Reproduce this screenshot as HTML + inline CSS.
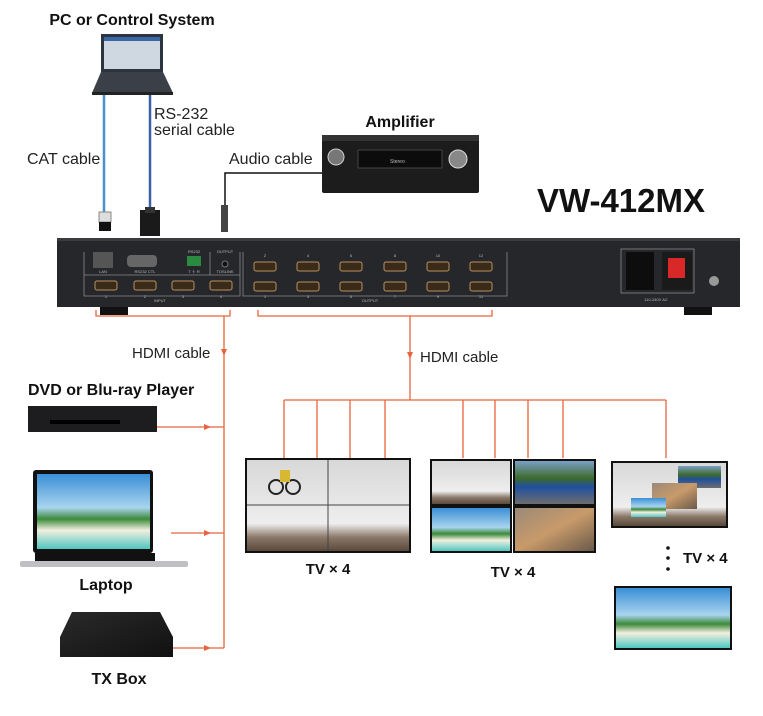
<!DOCTYPE html>
<html><head><meta charset="utf-8"><style>
html,body{margin:0;padding:0;background:#fff;}
svg{display:block;}
text{font-family:"Liberation Sans",Arial,sans-serif;}
.b{font-weight:bold;fill:#111;}
</style></head><body>
<svg width="763" height="716" viewBox="0 0 763 716" xmlns="http://www.w3.org/2000/svg">
<defs>
<linearGradient id="sky" x1="0" y1="0" x2="0" y2="1"><stop offset="0" stop-color="#3a8fd6"/><stop offset="0.45" stop-color="#a9d4ee"/><stop offset="0.6" stop-color="#3c8a3a"/><stop offset="0.75" stop-color="#f2efe0"/><stop offset="1" stop-color="#4fc6c0"/></linearGradient>
<linearGradient id="grey" x1="0" y1="0" x2="0" y2="1"><stop offset="0" stop-color="#d8d8d8"/><stop offset="0.7" stop-color="#eeeeee"/><stop offset="0.85" stop-color="#8a7868"/><stop offset="1" stop-color="#5a4a3c"/></linearGradient>
<linearGradient id="car" x1="0" y1="0" x2="0" y2="1"><stop offset="0" stop-color="#7aa0c8"/><stop offset="0.4" stop-color="#3d6a2a"/><stop offset="0.6" stop-color="#2050a0"/><stop offset="1" stop-color="#6d6d6d"/></linearGradient>
<linearGradient id="war" x1="0" y1="0" x2="1" y2="1"><stop offset="0" stop-color="#9b8a78"/><stop offset="0.5" stop-color="#c89a6a"/><stop offset="1" stop-color="#6a5a4a"/></linearGradient>
<linearGradient id="box" x1="0" y1="0" x2="1" y2="1"><stop offset="0" stop-color="#2a2a2a"/><stop offset="1" stop-color="#111"/></linearGradient>
</defs>

<!-- PC -->
<text x="132" y="25" class="b" font-size="16" text-anchor="middle">PC or Control System</text>
<rect x="101" y="34" width="62" height="38" fill="#2c3440"/>
<rect x="104" y="37" width="56" height="32" fill="#cfd8e0"/>
<rect x="104" y="37" width="56" height="4" fill="#3a66a8"/>
<polygon points="101,72 163,72 173,93 92,93" fill="#3a3f48"/>
<rect x="92" y="92" width="81" height="3" fill="#222"/>
<line x1="104" y1="95" x2="104" y2="212" stroke="#4a8fd0" stroke-width="2.5"/>
<line x1="150" y1="95" x2="150" y2="212" stroke="#3a5fa8" stroke-width="2.5"/>
<rect x="99" y="212" width="12" height="10" fill="#ddd" stroke="#888"/>
<rect x="99" y="222" width="12" height="9" fill="#111"/>
<rect x="140" y="210" width="20" height="26" fill="#1a1a1a"/>
<rect x="145" y="207" width="10" height="6" fill="#333"/>
<text x="154" y="119" font-size="16" fill="#222">RS-232</text>
<text x="154" y="135" font-size="16" fill="#222">serial cable</text>
<text x="27" y="164" font-size="16" fill="#222">CAT cable</text>

<!-- Amplifier -->
<text x="400" y="127" class="b" font-size="16" text-anchor="middle">Amplifier</text>
<rect x="322" y="135" width="157" height="58" rx="2" fill="#1c1c1c"/>
<rect x="322" y="135" width="157" height="6" fill="#333"/>
<circle cx="336" cy="157" r="8" fill="#777" stroke="#ccc"/>
<circle cx="458" cy="159" r="9" fill="#888" stroke="#ddd"/>
<rect x="358" y="150" width="84" height="18" fill="#0c0c0c" stroke="#444"/>
<text x="390" y="163" font-size="5" fill="#bbb">Stereo</text>
<text x="229" y="164" font-size="16" fill="#222">Audio cable</text>
<polyline points="322,173 225,173 225,222" fill="none" stroke="#111" stroke-width="1.5"/>
<rect x="221" y="205" width="7" height="27" fill="#444"/>

<text x="621" y="212" class="b" font-size="33" text-anchor="middle">VW-412MX</text>

<!-- Device -->
<rect x="57" y="238" width="683" height="69" fill="#26272a"/>
<rect x="57" y="238" width="683" height="3" fill="#3a3b3e"/>
<rect x="100" y="307" width="28" height="8" fill="#111"/>
<rect x="684" y="307" width="28" height="8" fill="#111"/>
<g fill="none" stroke="#8a8a8a" stroke-width="0.8">
<polyline points="84,252 84,296 240,296 240,252"/>
<line x1="84" y1="275" x2="240" y2="275"/>
<polyline points="243,252 243,296 507,296 507,252"/>
<line x1="210" y1="252" x2="210" y2="275"/>
<rect x="621" y="249" width="73" height="44"/>
</g>
<rect x="93" y="252" width="20" height="16" fill="#555"/>
<rect x="127" y="255" width="30" height="12" rx="4" fill="#666"/>
<rect x="187" y="256" width="14" height="10" fill="#2a8a40"/>
<circle cx="225" cy="264" r="3" fill="#111" stroke="#777"/>
<g fill="#3a2a1a" stroke="#b89060" stroke-width="1">
<rect x="95" y="281" width="22" height="9" rx="2"/><rect x="134" y="281" width="22" height="9" rx="2"/><rect x="172" y="281" width="22" height="9" rx="2"/><rect x="210" y="281" width="22" height="9" rx="2"/>
<rect x="254" y="262" width="22" height="9" rx="2"/><rect x="297" y="262" width="22" height="9" rx="2"/><rect x="340" y="262" width="22" height="9" rx="2"/><rect x="384" y="262" width="22" height="9" rx="2"/><rect x="427" y="262" width="22" height="9" rx="2"/><rect x="470" y="262" width="22" height="9" rx="2"/>
<rect x="254" y="282" width="22" height="9" rx="2"/><rect x="297" y="282" width="22" height="9" rx="2"/><rect x="340" y="282" width="22" height="9" rx="2"/><rect x="384" y="282" width="22" height="9" rx="2"/><rect x="427" y="282" width="22" height="9" rx="2"/><rect x="470" y="282" width="22" height="9" rx="2"/>
</g>
<g font-size="4" fill="#bbb" text-anchor="middle">
<text x="103" y="273">LAN</text><text x="145" y="273">RS232 CTL</text><text x="194" y="273">T ⏚ R</text><text x="225" y="273">TOSLINK</text><text x="225" y="253">OUTPUT</text><text x="194" y="253">RS232</text>
<text x="106" y="298">1</text><text x="145" y="298">2</text><text x="183" y="298">3</text><text x="221" y="298">4</text><text x="160" y="302">INPUT</text>
<text x="265" y="257">2</text><text x="308" y="257">4</text><text x="351" y="257">6</text><text x="395" y="257">8</text><text x="438" y="257">10</text><text x="481" y="257">12</text>
<text x="265" y="298">1</text><text x="308" y="298">3</text><text x="351" y="298">5</text><text x="395" y="298">7</text><text x="438" y="298">9</text><text x="481" y="298">11</text><text x="370" y="302">OUTPUT</text>
<text x="656" y="301">110-240V AC</text>
</g>
<rect x="626" y="252" width="28" height="38" fill="#0d0d0d"/>
<rect x="662" y="252" width="30" height="38" fill="#1a1a1a"/>
<rect x="668" y="258" width="17" height="20" fill="#d82828"/>
<circle cx="714" cy="281" r="5" fill="#999"/>

<!-- orange connectors -->
<g stroke="#e8643c" stroke-width="1.3" fill="none">
<polyline points="96,310 96,316 230,316 230,310"/>
<line x1="224" y1="316" x2="224" y2="648"/>
<polyline points="258,310 258,316 492,316 492,310"/>
<line x1="410" y1="316" x2="410" y2="400"/>
<line x1="284" y1="400" x2="666" y2="400"/>
<line x1="284" y1="400" x2="284" y2="458"/><line x1="317" y1="400" x2="317" y2="458"/><line x1="350" y1="400" x2="350" y2="458"/><line x1="385" y1="400" x2="385" y2="458"/>
<line x1="463" y1="400" x2="463" y2="458"/><line x1="495" y1="400" x2="495" y2="458"/><line x1="528" y1="400" x2="528" y2="458"/><line x1="563" y1="400" x2="563" y2="458"/>
<line x1="666" y1="400" x2="666" y2="458"/>
<line x1="157" y1="427" x2="224" y2="427"/>
<line x1="171" y1="533" x2="224" y2="533"/>
<line x1="173" y1="648" x2="224" y2="648"/>
</g>
<g fill="#e8643c">
<polygon points="204,424 211,427 204,430"/><polygon points="204,530 211,533 204,536"/><polygon points="204,645 211,648 204,651"/>
<polygon points="221,349 224,356 227,349"/><polygon points="407,352 410,359 413,352"/>
</g>
<text x="132" y="358" font-size="15" fill="#222">HDMI cable</text>
<text x="420" y="362" font-size="15" fill="#222">HDMI cable</text>

<!-- sources -->
<text x="28" y="395" class="b" font-size="16">DVD or Blu-ray Player</text>
<rect x="28" y="406" width="129" height="26" fill="#1d1d1f"/>
<rect x="50" y="420" width="70" height="4" fill="#000"/>
<rect x="33" y="470" width="120" height="83" rx="3" fill="#111"/>
<rect x="37" y="474" width="113" height="75" fill="url(#sky)"/>
<rect x="20" y="561" width="168" height="6" rx="2" fill="#c0c0c4"/>
<rect x="35" y="553" width="120" height="8" fill="#111"/>
<text x="106" y="590" class="b" font-size="16" text-anchor="middle">Laptop</text>
<polygon points="72,612 160,612 173,637 173,657 60,657 60,637" fill="url(#box)"/>
<text x="119" y="684" class="b" font-size="16" text-anchor="middle">TX Box</text>

<!-- TVs -->
<rect x="245" y="458" width="166" height="95" fill="#111"/>
<rect x="247" y="460" width="162" height="91" fill="url(#grey)"/>
<line x1="328" y1="460" x2="328" y2="551" stroke="#444"/><line x1="247" y1="505" x2="409" y2="505" stroke="#444"/>
<circle cx="276" cy="487" r="7" fill="none" stroke="#222" stroke-width="2"/><circle cx="293" cy="487" r="7" fill="none" stroke="#222" stroke-width="2"/><rect x="280" y="470" width="10" height="12" fill="#d8b830"/>
<text x="328" y="574" class="b" font-size="15" text-anchor="middle">TV × 4</text>

<rect x="430" y="459" width="82" height="47" fill="#111"/><rect x="432" y="461" width="78" height="43" fill="url(#grey)"/>
<rect x="513" y="459" width="83" height="47" fill="#111"/><rect x="515" y="461" width="79" height="43" fill="url(#car)"/>
<rect x="430" y="506" width="82" height="47" fill="#111"/><rect x="432" y="508" width="78" height="43" fill="url(#sky)"/>
<rect x="513" y="506" width="83" height="47" fill="#111"/><rect x="515" y="508" width="79" height="43" fill="url(#war)"/>
<text x="513" y="577" class="b" font-size="15" text-anchor="middle">TV × 4</text>

<rect x="611" y="461" width="117" height="67" fill="#111"/><rect x="613" y="463" width="113" height="63" fill="url(#grey)"/>
<rect x="678" y="466" width="43" height="22" fill="url(#car)"/>
<rect x="652" y="483" width="45" height="26" fill="url(#war)"/>
<rect x="631" y="498" width="35" height="19" fill="url(#sky)"/>
<circle cx="668" cy="548" r="1.8" fill="#111"/><circle cx="668" cy="558" r="1.8" fill="#111"/><circle cx="668" cy="569" r="1.8" fill="#111"/>
<text x="683" y="563" class="b" font-size="15">TV × 4</text>
<rect x="614" y="586" width="118" height="64" fill="#111"/><rect x="616" y="588" width="114" height="60" fill="url(#sky)"/>
</svg>
</body></html>
